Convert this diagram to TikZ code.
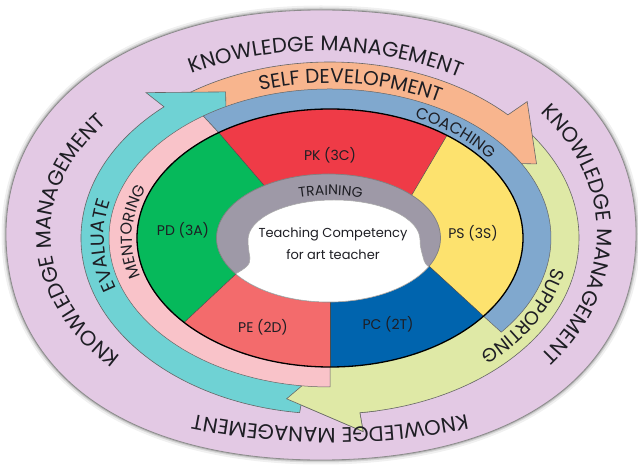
\documentclass[tikz,border=0pt]{standalone}
\usepackage{fontspec}
\setmainfont{Poppins}
\newfontfamily\popp{Poppins}
\usetikzlibrary{decorations.text,calc}
\definecolor{purp}{HTML}{E3C9E4}
\definecolor{tealc}{HTML}{6FD2D4}
\definecolor{orng}{HTML}{F8B58E}
\definecolor{ygc}{HTML}{DFE9A6}
\definecolor{pnk}{HTML}{F9C3C9}
\definecolor{bband}{HTML}{80A8CE}
\definecolor{pdg}{HTML}{06B95B}
\definecolor{pkr}{HTML}{EF3B47}
\definecolor{psy}{HTML}{FDE26E}
\definecolor{pcb}{HTML}{0064AE}
\definecolor{pes}{HTML}{F36B6C}
\definecolor{gry}{HTML}{9E99A7}
\definecolor{ink}{HTML}{1E1E24}
\newcommand\fs[1]{\popp\fontsize{#1}{#1}\selectfont}
\newcommand\purpshape[1]{\path[#1] (636,232) .. controls (636,370) and (515,456) .. (321,456) .. controls (135,456) and (6,366) .. (6,232) .. controls (6,94) and (125,6) .. (321,6) .. controls (517,6) and (636,94) .. cycle;}
\newcommand\ringarrow[4]{\filldraw[fill=#1, draw=black!60, line width=.6pt]
  (#2:249pt and 176pt) arc[start angle=#2, end angle=#3, x radius=249pt, y radius=176pt]
  -- (#3:276pt and 195pt) -- (#4:231.6pt and 163.7pt) -- (#3:154.4pt and 109.1pt)
  -- (#3:174.3pt and 123.2pt) arc[start angle=#3, end angle=#2, x radius=174.3pt, y radius=123.2pt] -- cycle;}
% centre, rx, ry, start angle, end angle, font size, text
\newcommand\arctext[7]{\path[decorate, decoration={text along path, text align=center, text color=ink, text={|\fs{#6}|#7}}]
  ($(#1)+(#4:#2 and #3)$) arc[start angle=#4, end angle=#5, x radius=#2, y radius=#3];}
\tikzset{seglabel/.style={font=\fs{14}, text=ink, inner sep=0pt},
  divider/.style={draw=black!70, line width=.5pt}}
\begin{document}
\begin{tikzpicture}[x=1pt,y=1pt]
\useasboundingbox (0,0) rectangle (638,466);
\fill[white] (0,0) rectangle (638,466);
\coordinate (C) at (330,228);
\coordinate (B0) at (321,232);
\coordinate (BB) at (330,738);
\coordinate (G) at (328.5,228);
\purpshape{draw=black, opacity=.06, line width=9pt}
\purpshape{draw=black, opacity=.10, line width=5pt}
\purpshape{draw=black, opacity=.15, line width=2.5pt}
\purpshape{fill=purp, draw=black!45, line width=.8pt}
\begin{scope}[shift={(C)}]
\ringarrow{ygc}{42}{-83.1}{-100.8}
\ringarrow{orng}{128}{44.4}{26.9}
\ringarrow{tealc}{263}{131.8}{116.8}
\fill[ygc] (-79.1:249pt and 176pt) arc[start angle=-79.1, end angle=-83.1, x radius=249pt, y radius=176pt] -- (-83.1:276pt and 195pt) -- (-100.8:231.6pt and 163.7pt) -- (-83.1:154.4pt and 109.1pt) -- (-79.1:154.4pt and 109.1pt) -- cycle;
\draw[black!60, line width=.6pt] (-79.1:249pt and 176pt) arc[start angle=-79.1, end angle=-83.1, x radius=249pt, y radius=176pt] -- (-83.1:276pt and 195pt) -- (-100.8:231.6pt and 163.7pt) -- (-83.1:154.4pt and 109.1pt);
% pink and blue bands
\filldraw[fill=pnk, draw=black!60, line width=.5pt] (270:221pt and 149pt) arc[start angle=270, end angle=125, x radius=221pt, y radius=149pt] -- (125.2:193pt and 129pt) arc[start angle=125.2, end angle=270, x radius=193pt, y radius=129pt] -- cycle;
\filldraw[fill=bband, draw=black!60, line width=.5pt] (125:221pt and 149pt) arc[start angle=125, end angle=-39.2, x radius=221pt, y radius=149pt] -- (-37.3:193pt and 129pt) arc[start angle=-37.3, end angle=125.2, x radius=193pt, y radius=129pt] -- cycle;
% pie
\coordinate (o1) at (125.2:193pt and 129pt);
\coordinate (o2) at (52.7:193pt and 129pt);
\coordinate (o3) at (-37.3:193pt and 129pt);
\coordinate (o4) at (-90:193pt and 129pt);
\coordinate (o5) at (220.9:193pt and 129pt);
\coordinate (i1) at (-59.3,44.9);
\coordinate (i2) at (76.2,33.5);
\coordinate (i3) at (89.3,-19.2);
\coordinate (i4) at (0,-51);
\coordinate (i5) at (-82.4,-25.1);
\fill[pdg] (i5) -- (o5) arc[start angle=220.9, end angle=125.2, x radius=193pt, y radius=129pt] -- (i1) -- (0,0) -- cycle;
\fill[pkr] (i1) -- (o1) arc[start angle=125.2, end angle=52.7, x radius=193pt, y radius=129pt] -- (i2) -- (0,0) -- cycle;
\fill[psy] (i2) -- (o2) arc[start angle=52.7, end angle=-37.3, x radius=193pt, y radius=129pt] -- (i3) -- (0,0) -- cycle;
\fill[pcb] (i3) -- (o3) arc[start angle=-37.3, end angle=-90, x radius=193pt, y radius=129pt] -- (i4) -- (0,0) -- cycle;
\fill[pes] (i4) -- (o4) arc[start angle=-90, end angle=-139.1, x radius=193pt, y radius=129pt] -- (i5) -- (0,0) -- cycle;
\draw[divider] (o1) -- (i1);
\draw[divider] (o2) -- (i2);
\draw[divider] (o3) -- (i3);
\draw[divider] (o4) -- (i4);
\draw[divider] (o5) -- (i5);
\draw[black, line width=1.3pt] (0,0) ellipse[x radius=193pt, y radius=129pt];
\end{scope}
% gray training ellipse and white centre
\filldraw[fill=gry, draw=black!50, line width=.7pt] (G) ellipse[x radius=112pt, y radius=64pt];
\filldraw[fill=white, draw=black!35, line width=.5pt] ($(G)+(214.1:112pt and 64pt)$) .. controls (244,197) and (251,201) .. (250,208) .. controls (249,214) and (248,220) .. (248,226) arc[start angle=180, end angle=0, x radius=86pt, y radius=40pt] .. controls (420,218) and (422,213) .. (423,209) .. controls (424,204) and (426,201) .. ($(G)+(-26.6:112pt and 64pt)$) arc[start angle=-26.6, end angle=-145.9, x radius=112pt, y radius=64pt] -- cycle;
% ring texts
\arctext{B0}{268pt}{183pt}{163.5}{13.5}{21}{KNOWLEDGE MANAGEMENT}
\arctext{B0}{276pt}{200pt}{75}{-75}{21}{KNOWLEDGE MANAGEMENT}
\arctext{BB}{700pt}{700pt}{-75}{-105}{21}{KNOWLEDGE MANAGEMENT}
\arctext{B0}{270pt}{183pt}{257}{107}{21}{KNOWLEDGE MANAGEMENT}
\arctext{C}{226pt}{155pt}{148}{18}{20}{SELF DEVELOPMENT}
\arctext{C}{226pt}{155pt}{247}{117}{19}{EVALUATE}
\arctext{C}{226pt}{155pt}{-1}{-56}{19}{SUPPORTING}
\arctext{C}{198pt}{133pt}{76}{21.8}{16}{COACHING}
\arctext{C}{198pt}{133pt}{238}{118}{16}{MENTORING}
\arctext{G}{93pt}{43pt}{148}{28}{14}{TRAINING}
% labels
\node[seglabel] (pd) at (183,236) {PD (3A)};
\node[seglabel] (pk) at (330,311) {PK (3C)};
\node[seglabel] (ps) at (473,233) {PS (3S)};
\node[seglabel] (pe) at (263,139) {PE (2D)};
\node[seglabel] (pc) at (388,142) {PC (2T)};
\node[font={\popp\fontsize{13}{22}\selectfont}, text=ink, align=center, inner sep=0pt] (ctext) at (333,222) {Teaching Competency\\for art teacher};
\end{tikzpicture}
\end{document}
